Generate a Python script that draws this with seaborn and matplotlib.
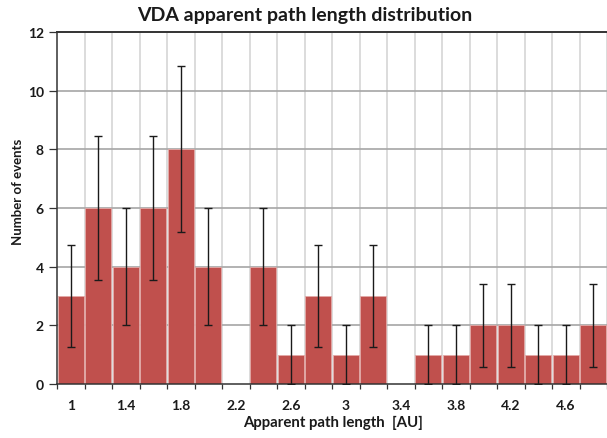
import matplotlib
matplotlib.use("Agg")
import matplotlib.pyplot as plt
from matplotlib.ticker import FixedLocator
import seaborn as sns
import pandas as pd

# Histogram of apparent path lengths (bin starts in AU)
bins = [1.0, 1.2, 1.4, 1.6, 1.8, 2.0, 2.2, 2.4, 2.6, 2.8,
        3.0, 3.2, 3.4, 3.6, 3.8, 4.0, 4.2, 4.4, 4.6, 4.8]
counts = [3, 6, 4, 6, 8, 4, 0, 4, 1, 3, 1, 3, 0, 1, 1, 2, 2, 1, 1, 2]
# Poisson uncertainty on each bin
errors = [1.73, 2.45, 2.0, 2.45, 2.83, 2.0, 0.0, 2.0, 1.0, 1.73,
          1.0, 1.73, 0.0, 1.0, 1.0, 1.41, 1.41, 1.0, 1.0, 1.41]
tick_labels = ["1", "1.4", "1.8", "2.2", "2.6", "3", "3.4", "3.8", "4.2", "4.6"]

df = pd.DataFrame({"bin": [f"{b:g}" for b in bins], "count": counts})

sns.set_style("white")
plt.rcParams["font.family"] = ["Lato", "DejaVu Sans"]

W, H = 607, 439
fig = plt.figure(figsize=(W / 100, H / 100), dpi=100)
ax = fig.add_axes([57 / W, 1 - 385 / H, 1 - 57 / W, (385 - 33) / H])

sns.barplot(data=df, x="bin", y="count", color="#C0504D", saturation=1,
            width=0.93, edgecolor="#E3A9A7", linewidth=0.6, ax=ax, zorder=2)
for patch, c in zip(ax.patches, counts):
    if c == 0:
        patch.set_linewidth(0)

# error bars only on filled bins
pos = list(range(len(bins)))
eb = [(p, c, e) for p, c, e in zip(pos, counts, errors) if e > 0]
ax.errorbar([p for p, _, _ in eb], [c for _, c, _ in eb],
            yerr=[e for _, _, e in eb], fmt="none", ecolor="#1a1a1a",
            elinewidth=1.0, capsize=2.6, capthick=1.0, zorder=3)

ax.set_xlim(-0.5, len(bins) - 0.5)
ax.set_ylim(0, 12)
ax.set_yticks(range(0, 13, 2))
ax.set_xlabel("")
ax.set_ylabel("")

# category labels on every other bin, tick marks on bin boundaries
ax.set_xticks(pos[::2])
ax.set_xticklabels(tick_labels)
ax.xaxis.set_minor_locator(FixedLocator([p - 0.5 for p in range(len(bins) + 1)]))
ax.tick_params(axis="x", which="major", length=0, pad=11, labelsize=10)
ax.tick_params(axis="x", which="minor", length=3.5, width=0.9, color="#333333",
               direction="out", bottom=True)
ax.tick_params(axis="y", which="major", length=5.5, width=0.9, color="#333333",
               direction="out", left=True, labelsize=10, pad=4)

for lbl in ax.get_xticklabels() + ax.get_yticklabels():
    lbl.set_fontweight("bold")
    lbl.set_color("#1a1a1a")

# grid lines
ax.grid(False)
for x in [p - 0.5 for p in range(1, len(bins))] + [len(bins) - 0.5]:
    ax.axvline(x, color="#d9d9d9", lw=1.3, zorder=0)
for y in range(2, 12, 2):
    ax.axhline(y, color="#a6a6a6", lw=1.2, zorder=1)

for side in ["left", "bottom", "top"]:
    ax.spines[side].set_visible(True)
    ax.spines[side].set_color("#333333")
    ax.spines[side].set_linewidth(1.1)
ax.spines["right"].set_visible(False)
ax.spines["top"].set_linewidth(1.4)

title = fig.text(305 / W, 1 - 21 / H, "VDA apparent path length distribution",
                 ha="center", va="baseline", fontsize=13, fontweight="bold",
                 color="#1a1a1a")
xlab = fig.text(333 / W, 1 - 423 / H, "Apparent path length  [AU]",
                ha="center", va="center", fontsize=10.5, fontweight="bold",
                color="#1a1a1a")
ylab = fig.text(18 / W, 1 - 192 / H, "Number of events", rotation=90,
                ha="center", va="center", fontsize=10.5, fontweight="bold",
                color="#1a1a1a")


def fit_text(txt, target_px, vertical=False):
    """Scale a text's font size so that its drawn length is target_px."""
    renderer = fig.canvas.get_renderer()
    for _ in range(3):
        bb = txt.get_window_extent(renderer)
        size = bb.height if vertical else bb.width
        txt.set_fontsize(txt.get_fontsize() * target_px / size)


fit_text(title, 333)
fit_text(xlab, 180)
fit_text(ylab, 106, vertical=True)

fig.savefig("out.png", dpi=100)
